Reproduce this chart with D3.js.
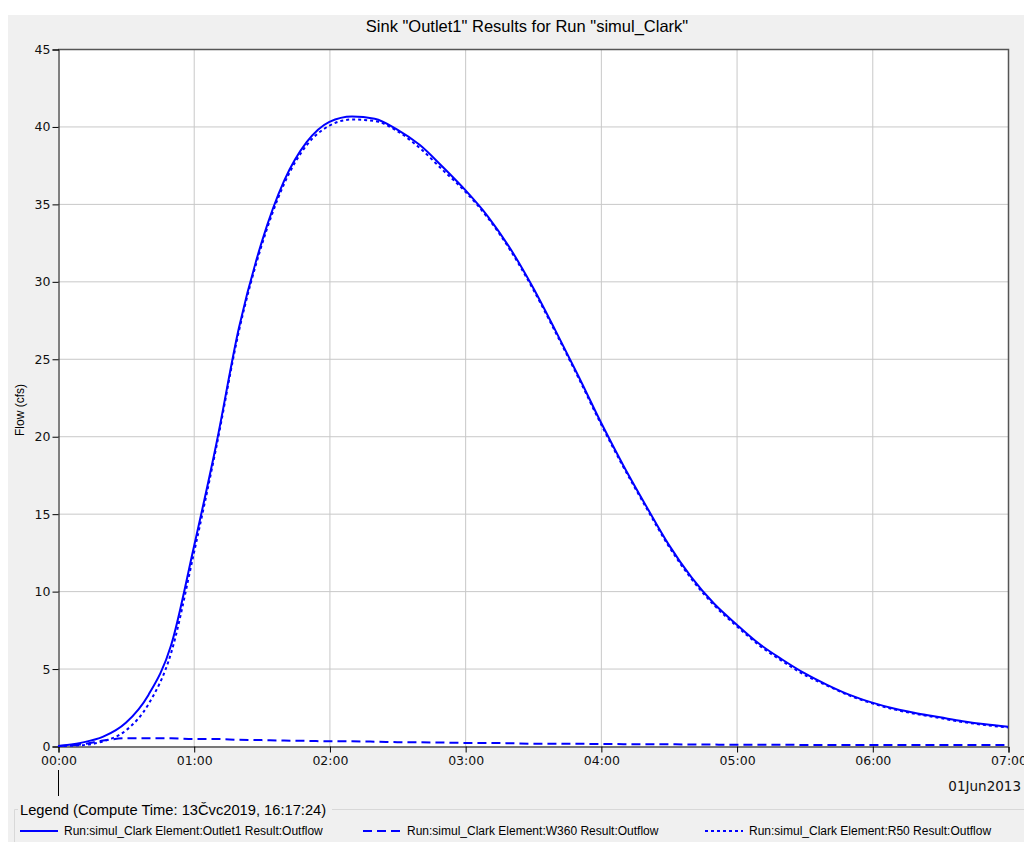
<!DOCTYPE html>
<html>
<head>
<meta charset="utf-8">
<script src="https://cdn.jsdelivr.net/npm/d3@7"></script>
<style>
  body { margin: 0; background: #fff; }
  svg { display: block; font-family: "Liberation Sans", Arial, sans-serif; }
</style>
</head>
<body>
<div id="viz"></div>
<script>
// time in minutes from 00:00, 01Jun2013
var minutes = [0, 10, 20, 30, 40, 50, 60, 70, 80, 90, 100, 110, 120, 130, 140, 150, 160, 170, 180, 190,
               200, 210, 220, 230, 240, 250, 260, 270, 280, 290, 300, 310, 320, 330, 340, 350, 360, 370,
               380, 390, 400, 410, 420];

var outlet1 = [0, 0.2, 0.6, 1.5, 3.3, 6.5, 12.8, 19.5, 27.0, 32.5, 36.5, 39.0, 40.3, 40.65, 40.5, 39.8,
               38.8, 37.4, 35.9, 34.2, 32.1, 29.6, 26.8, 23.9, 20.9, 18.1, 15.5, 13.0, 10.9, 9.2, 7.85,
               6.6, 5.6, 4.7, 3.95, 3.3, 2.8, 2.4, 2.1, 1.85, 1.6, 1.4, 1.25];

var w360 = [0, 0.1, 0.35, 0.5, 0.5, 0.5, 0.45, 0.45, 0.4, 0.38, 0.35, 0.33, 0.3, 0.3, 0.28, 0.25,
            0.24, 0.22, 0.2, 0.2, 0.18, 0.15, 0.15, 0.14, 0.13, 0.12, 0.12, 0.11, 0.1, 0.09, 0.08,
            0.08, 0.08, 0.07, 0.07, 0.07, 0.07, 0.06, 0.06, 0.06, 0.06, 0.06, 0.06];

var r50 = [0, 0.05, 0.3, 1.0, 2.7, 6.0, 12.4, 19.3, 26.8, 32.3, 36.3, 38.8, 40.05, 40.45, 40.35, 39.7,
           38.6, 37.2, 35.8, 34.1, 32.0, 29.5, 26.7, 23.8, 20.8, 18.0, 15.4, 12.9, 10.8, 9.1, 7.75,
           6.5, 5.5, 4.6, 3.9, 3.25, 2.75, 2.35, 2.05, 1.8, 1.55, 1.35, 1.2];

var yTicks = [0, 5, 10, 15, 20, 25, 30, 35, 40, 45];
var xTicks = [0, 60, 120, 180, 240, 300, 360, 420];

var seriesNames = ["Run:simul_Clark Element:Outlet1 Result:Outflow",
                   "Run:simul_Clark Element:W360 Result:Outflow",
                   "Run:simul_Clark Element:R50 Result:Outflow"];
var seriesDash = [null, "9,5", "3,3"];
var seriesValues = [outlet1, w360, r50];

var width = 1024, height = 842;
var plotLeft = 58, plotRight = 1008, plotTop = 49, plotBottom = 746;

var svg = d3.select("#viz").append("svg")
  .attr("width", width)
  .attr("height", height);

// grey window panel
svg.append("rect")
  .attr("x", 8).attr("y", 15)
  .attr("width", width - 8).attr("height", height - 15)
  .attr("fill", "#f0f0f0");

svg.append("text")
  .attr("x", 527).attr("y", 32)
  .attr("text-anchor", "middle")
  .attr("font-size", 16.5)
  .attr("fill", "#000")
  .text('Sink "Outlet1" Results for Run "simul_Clark"');

var x = d3.scaleLinear().domain([0, 420]).range([plotLeft, plotRight]);
var y = d3.scaleLinear().domain([0, 45]).range([plotBottom, plotTop]);

svg.append("rect")
  .attr("x", plotLeft).attr("y", plotTop)
  .attr("width", plotRight - plotLeft).attr("height", plotBottom - plotTop)
  .attr("fill", "#fff");

// grid
svg.append("g").selectAll("line")
  .data(xTicks.slice(1, -1))
  .enter().append("line")
    .attr("x1", function(d) { return x(d) + 0.5; })
    .attr("x2", function(d) { return x(d) + 0.5; })
    .attr("y1", plotTop).attr("y2", plotBottom)
    .attr("stroke", "#c8c8c8");

svg.append("g").selectAll("line")
  .data(yTicks.slice(1, -1))
  .enter().append("line")
    .attr("y1", function(d) { return y(d) + 0.5; })
    .attr("y2", function(d) { return y(d) + 0.5; })
    .attr("x1", plotLeft).attr("x2", plotRight)
    .attr("stroke", "#c8c8c8");

// frame (top / right)
svg.append("path")
  .attr("d", "M" + plotLeft + "," + (plotTop + 0.5) + "H" + (plotRight + 0.5) + "V" + plotBottom)
  .attr("fill", "none")
  .attr("stroke", "#555")
  .attr("stroke-width", 1.5);

var yAxis = svg.append("g")
  .attr("transform", "translate(" + (plotLeft + 0.5) + ",0.5)")
  .call(d3.axisLeft(y).tickValues(yTicks).tickSize(6).tickPadding(2).tickFormat(d3.format("d")));

var xAxis = svg.append("g")
  .attr("transform", "translate(0.5," + (plotBottom + 0.5) + ")")
  .call(d3.axisBottom(x).tickValues(xTicks).tickSize(6).tickPadding(4)
    .tickFormat(function(d) { return d3.format("02d")(Math.floor(d / 60)) + ":" + d3.format("02d")(d % 60); }));

[yAxis, xAxis].forEach(function(a) {
  a.select(".domain").attr("stroke", "#000");
  a.selectAll(".tick line").attr("stroke", "#000");
  a.selectAll(".tick text")
    .attr("fill", "#111")
    .attr("font-family", "'DejaVu Sans', sans-serif")
    .attr("font-size", 12.5);
});

// date marker under the first tick
svg.append("line")
  .attr("x1", x(0) + 0.5).attr("x2", x(0) + 0.5)
  .attr("y1", 770).attr("y2", 796)
  .attr("stroke", "#000");

svg.append("text")
  .attr("x", 1021).attr("y", 791)
  .attr("text-anchor", "end")
  .attr("font-family", "'DejaVu Sans', sans-serif")
  .attr("font-size", 13.5)
  .attr("fill", "#111")
  .text("01Jun2013");

svg.append("text")
  .attr("transform", "translate(24,410) rotate(-90)")
  .attr("text-anchor", "middle")
  .attr("font-size", 12)
  .attr("fill", "#000")
  .text("Flow (cfs)");

// series
var line = d3.line()
  .x(function(d, i) { return x(minutes[i]); })
  .y(function(d) { return y(d); })
  .curve(d3.curveMonotoneX);

var plot = svg.append("g");
seriesValues.forEach(function(vals, k) {
  plot.append("path")
    .datum(vals)
    .attr("d", line)
    .attr("fill", "none")
    .attr("stroke", "#0000ff")
    .attr("stroke-width", 2)
    .attr("stroke-dasharray", seriesDash[k]);
});

// legend group box
var legend = svg.append("g");
legend.append("path")
  .attr("d", "M18,809.5H14.5V842 M332,809.5H1024")
  .attr("fill", "none")
  .attr("stroke", "#d8d8d8");

legend.append("text")
  .attr("x", 20).attr("y", 815)
  .attr("font-size", 14.7)
  .attr("fill", "#000")
  .text("Legend (Compute Time: 13Čvc2019, 16:17:24)");

var legendX = [20, 363, 705];
var item = legend.selectAll("g.item")
  .data(seriesNames)
  .enter().append("g")
    .attr("class", "item")
    .attr("transform", function(d, i) { return "translate(" + legendX[i] + ",831)"; });

item.append("line")
  .attr("x1", 0).attr("x2", 38)
  .attr("stroke", "#0000ff")
  .attr("stroke-width", 2)
  .attr("stroke-dasharray", function(d, i) { return seriesDash[i]; });

item.append("text")
  .attr("x", 44).attr("y", 4)
  .attr("font-size", 12)
  .attr("fill", "#000")
  .text(function(d) { return d; });
</script>
</body>
</html>
